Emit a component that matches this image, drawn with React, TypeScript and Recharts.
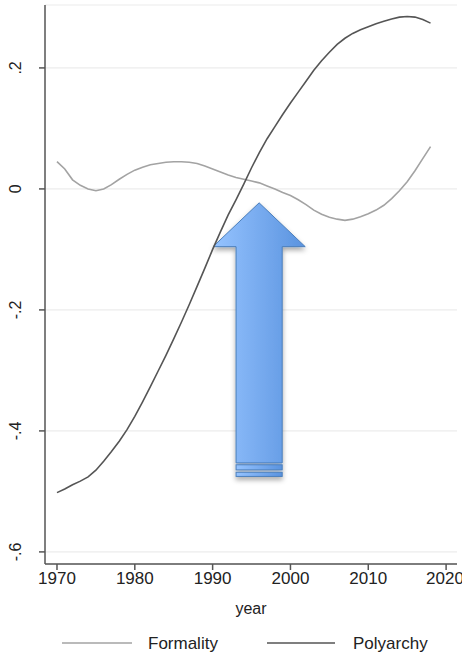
import { CartesianGrid, Legend, Line, LineChart, ReferenceArea, XAxis, YAxis } from 'recharts';

const years = [
  1970, 1971, 1972, 1973, 1974, 1975, 1976, 1977, 1978, 1979,
  1980, 1981, 1982, 1983, 1984, 1985, 1986, 1987, 1988, 1989,
  1990, 1991, 1992, 1993, 1994, 1995, 1996, 1997, 1998, 1999,
  2000, 2001, 2002, 2003, 2004, 2005, 2006, 2007, 2008, 2009,
  2010, 2011, 2012, 2013, 2014, 2015, 2016, 2017, 2018,
];

const formality = [
  0.045, 0.033, 0.015, 0.006, 0.0, -0.003, 0.0, 0.007, 0.016, 0.024,
  0.031, 0.036, 0.04, 0.042, 0.044, 0.045, 0.045, 0.044, 0.042, 0.038,
  0.033, 0.028, 0.023, 0.019, 0.016, 0.013, 0.01, 0.005, 0.0, -0.006,
  -0.011, -0.018, -0.026, -0.035, -0.042, -0.047, -0.05, -0.052, -0.05, -0.046,
  -0.041, -0.035, -0.027, -0.016, -0.003, 0.012, 0.03, 0.05, 0.07,
];

const polyarchy = [
  -0.502, -0.496, -0.489, -0.483, -0.476, -0.465, -0.45, -0.434, -0.417, -0.398,
  -0.376, -0.352, -0.327, -0.301, -0.275, -0.248, -0.22, -0.191, -0.161, -0.131,
  -0.1, -0.071, -0.043, -0.018, 0.008, 0.035, 0.06, 0.083, 0.103, 0.123,
  0.142, 0.16, 0.178, 0.196, 0.212, 0.226, 0.239, 0.249, 0.257, 0.263,
  0.268, 0.273, 0.277, 0.281, 0.284, 0.285, 0.284, 0.28, 0.274,
];

const xTicks = [1970, 1980, 1990, 2000, 2010, 2020];
const yTicks = [-0.6, -0.4, -0.2, 0, 0.2];
const yTickLabels = ['-.6', '-.4', '-.2', '0', '.2'];

// arrow annotation bounds, in data units
const arrowYears = [1990.05, 2001.9];
const arrowValues = [-0.476, -0.023];

const data = years.map((year, i) => ({ year, Formality: formality[i], Polyarchy: polyarchy[i] }));

const FONT = 'Liberation Sans, Arial, Helvetica, sans-serif';

function YTick({ x, y, payload }: any) {
  const i = yTicks.indexOf(payload.value);
  return (
    <text
      x={x - 16}
      y={y}
      transform={`rotate(-90 ${x - 16} ${y})`}
      textAnchor="middle"
      fontSize={16}
      fontFamily={FONT}
      fill="#222"
    >
      {i >= 0 ? yTickLabels[i] : payload.value}
    </text>
  );
}

function Arrow({ x, y, width, height }: any) {
  const headH = height * 0.16;
  const sl = x + width * 0.25;
  const sr = x + width * 0.75;
  const tipX = x + width / 2;
  const shaftEnd = y + height * 0.949;
  const bottom = y + height;
  const pts = [
    [tipX, y],
    [x + width, y + headH],
    [sr, y + headH],
    [sr, shaftEnd],
    [sl, shaftEnd],
    [sl, y + headH],
    [x, y + headH],
  ]
    .map((p) => p.join(','))
    .join(' ');
  const band = (bottom - shaftEnd) / 3;
  return (
    <g>
      <defs>
        <linearGradient id="arrowFill" x1="0" y1="0" x2="1" y2="0">
          <stop offset="0%" stopColor="#95c3ff" />
          <stop offset="100%" stopColor="#5a93df" />
        </linearGradient>
        <filter id="arrowShadow" x="-30%" y="-10%" width="160%" height="130%">
          <feDropShadow dx="0" dy="3" stdDeviation="2.5" floodColor="#000" floodOpacity="0.35" />
        </filter>
      </defs>
      <g filter="url(#arrowShadow)">
        <polygon points={pts} fill="url(#arrowFill)" stroke="#4a7ebb" strokeWidth={1} />
        <rect x={sl} y={shaftEnd + band * 0.4} width={sr - sl} height={band * 1.1} fill="url(#arrowFill)" stroke="#4a7ebb" strokeWidth={1} />
        <rect x={sl} y={shaftEnd + band * 2} width={sr - sl} height={band * 0.9} fill="url(#arrowFill)" stroke="#4a7ebb" strokeWidth={1} />
      </g>
    </g>
  );
}

function LegendContent() {
  const items = [
    { name: 'Formality', color: '#a3a3a3', x0: 62, x1: 132, tx: 148 },
    { name: 'Polyarchy', color: '#555555', x0: 267, x1: 335, tx: 353 },
  ];
  return (
    <svg width={462} height={38} style={{ display: 'block' }}>
      {items.map((it) => (
        <g key={it.name}>
          <line x1={it.x0} x2={it.x1} y1={24} y2={24} stroke={it.color} strokeWidth={1.6} />
          <text x={it.tx} y={30} fontSize={17} fontFamily={FONT} fill="#222">
            {it.name}
          </text>
        </g>
      ))}
    </svg>
  );
}

export default function App() {
  return (
    <div style={{ width: 462, height: 657, background: '#fff' }}>
      <style>{'body{margin:0}'}</style>
      <LineChart width={462} height={657} data={data} margin={{ top: 5, right: 5, left: 0, bottom: 0 }}>
        <CartesianGrid vertical={false} stroke="#ececec" strokeWidth={1.2} />
        <XAxis
          dataKey="year"
          type="number"
          domain={[1968.46, 2021.4]}
          ticks={xTicks}
          allowDataOverflow
          height={55}
          tickSize={6}
          stroke="#555"
          strokeWidth={1.5}
          tick={{ fontSize: 17, fontFamily: FONT, fill: '#222' }}
          label={{ value: 'year', position: 'insideBottom', offset: 5, fontSize: 16, fontFamily: FONT, fill: '#222' }}
        />
        <YAxis
          type="number"
          domain={[-0.62, 0.304]}
          ticks={yTicks}
          allowDataOverflow
          width={45}
          tickSize={6}
          stroke="#555"
          strokeWidth={1.5}
          tick={<YTick />}
        />
        <Line
          dataKey="Formality"
          type="linear"
          stroke="#a3a3a3"
          strokeWidth={1.6}
          dot={false}
          isAnimationActive={false}
        />
        <Line
          dataKey="Polyarchy"
          type="linear"
          stroke="#555555"
          strokeWidth={1.6}
          dot={false}
          isAnimationActive={false}
        />
        <ReferenceArea
          x1={arrowYears[0]}
          x2={arrowYears[1]}
          y1={arrowValues[0]}
          y2={arrowValues[1]}
          ifOverflow="visible"
          shape={(props: any) => <Arrow {...props} />}
        />
        <Legend verticalAlign="bottom" height={38} content={() => <LegendContent />} wrapperStyle={{ left: 0, width: 462 }} />
      </LineChart>
    </div>
  );
}
